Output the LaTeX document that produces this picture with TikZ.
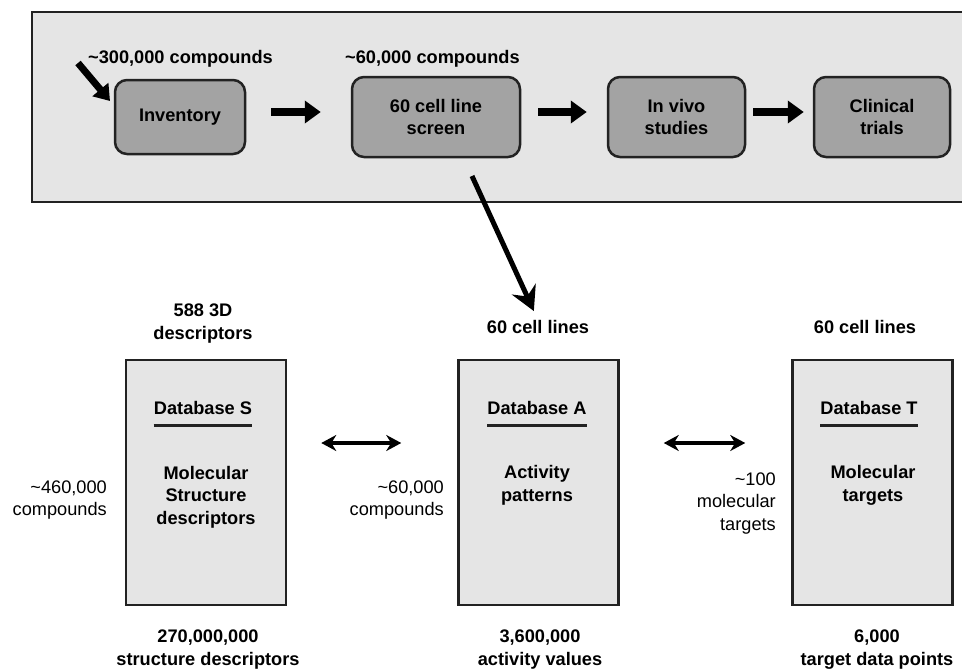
\documentclass[tikz,border=0pt]{standalone}
\usepackage{fontspec}
\setmainfont{Liberation Sans}
\usepackage{tikz}
\usetikzlibrary{arrows.meta}
\definecolor{fl-panel}{HTML}{E5E5E5}
\definecolor{fl-stage}{HTML}{A3A3A3}
\definecolor{fl-line}{HTML}{222222}
\newcommand{\flfont}{\fontsize{18.2}{22.5}\selectfont}
\tikzset{
  stage/.style={draw=fl-line, line width=2.5pt, fill=fl-stage, rounded corners=12pt,
    align=center, font=\flfont\bfseries, inner sep=0pt},
  dbbox/.style={draw=fl-line, line width=2.5pt, fill=fl-panel, inner sep=0pt},
  lbl/.style={align=center, inner sep=0pt, font=\flfont},
  blbl/.style={align=center, inner sep=0pt, font=\flfont\bfseries},
  blockarrow/.style={line width=8pt, -{Triangle[length=16pt, width=22pt]}},
  twoway/.style={line width=3.5pt, {Stealth[length=15pt, width=16pt]}-{Stealth[length=15pt, width=16pt]}},
  uline/.style={line width=3pt, fl-line}
}

\begin{document}
\begin{tikzpicture}[x=1pt, y=-1pt]
    \useasboundingbox (0,0) rectangle (962,670);
    % upper panel: screening pipeline
    \draw[fill=fl-panel, draw=fl-line, line width=2.5pt] (32,12) rectangle (980,202);
    \node[stage, minimum width=130pt, minimum height=74pt] (inv) at (180,117) {Inventory};
    \node[stage, minimum width=168pt, minimum height=80pt] (scr) at (436,117) {60 cell line\\screen};
    \node[stage, minimum width=137pt, minimum height=80pt] (viv) at (676.5,117) {In vivo\\studies};
    \node[stage, minimum width=136pt, minimum height=80pt] (cli) at (882,117) {Clinical\\trials};
    \node[blbl, anchor=west] (invN) at (88,59) {\textasciitilde 300,000 compounds};
    \node[blbl, anchor=west] (scrN) at (345,59) {\textasciitilde 60,000 compounds};
    \coordinate (src) at (78,63);
    \coordinate (invIn) at (110,101);
    \draw[line width=7pt, -{Triangle[length=15pt, width=20pt]}] (src) -- (invIn);
    \draw[blockarrow, shorten <=25pt, shorten >=30pt] ([yshift=5pt]inv.east) -- ([yshift=5pt]scr.west);
    \draw[blockarrow, shorten <=17pt, shorten >=20pt] ([yshift=5pt]scr.east) -- ([yshift=5pt]viv.west);
    \draw[blockarrow, shorten <=7pt, shorten >=9pt] ([yshift=5pt]viv.east) -- ([yshift=5pt]cli.west);

    % lower part: the three databases
    \foreach \nm/\cx in {S/206, A/538.5, T/872.5}
        \node[dbbox, minimum width=160pt, minimum height=245pt] (db\nm) at (\cx,482.5) {};
    \node[blbl] (dbST) at (203,408) {Database S};
    \node[blbl] (dbAT) at (537,408) {Database A};
    \node[blbl] (dbTT) at (869,408) {Database T};
    \foreach \nm in {S, A, T}
        \draw[uline] ([yshift=-11pt]db\nm T.south west) -- ([yshift=-11pt]db\nm T.south east);
    \node[blbl] (dbSD) at (206,497) {Molecular\\Structure\\descriptors};
    \node[blbl] (dbAD) at (537,485.5) {Activity\\patterns};
    \node[blbl] (dbTD) at (873,485.5) {Molecular\\targets};

    \node[blbl] (topS) at (203,323.5) {588 3D\\descriptors};
    \node[blbl] (topA) at (538,327) {60 cell lines};
    \node[blbl] (topT) at (865,327) {60 cell lines};
    \node[blbl] (botS) at (208,649.5) {270,000,000\\structure descriptors};
    \node[blbl] (botA) at (540,649.5) {3,600,000\\activity values};
    \node[blbl] (botT) at (877,649.5) {6,000\\target data points};
    \node[lbl, align=right, anchor=east] (sideS) at (107,500) {\textasciitilde 460,000\\compounds};
    \node[lbl, align=right, anchor=east] (sideA) at (444,500) {\textasciitilde 60,000\\compounds};
    \node[lbl, align=right, anchor=east] (sideT) at (776,503.5) {\textasciitilde 100\\molecular\\targets};

    % links
    \coordinate (scrOut) at (472,176);
    \draw[line width=5pt, -{Stealth[length=24pt, width=26pt, inset=8pt]}, shorten >=10pt] (scrOut) -- (topA.north);
    \draw[twoway, shorten <=34pt, shorten >=56pt] ([yshift=39.5pt]dbS.east) -- ([yshift=39.5pt]dbA.west);
    \draw[twoway, shorten <=44pt, shorten >=46pt] ([yshift=39.5pt]dbA.east) -- ([yshift=39.5pt]dbT.west);
\end{tikzpicture}
\end{document}
